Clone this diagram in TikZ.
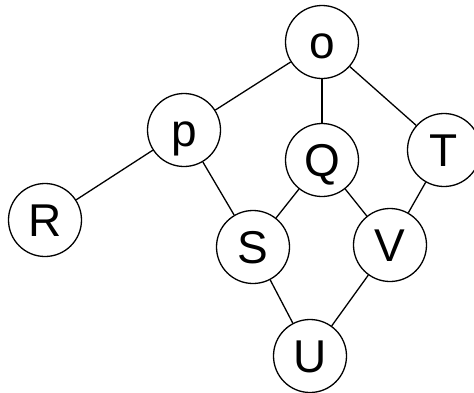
\documentclass[tikz,border=0pt]{standalone}
\usepackage{fontspec}
\setmainfont{Liberation Sans}

\begin{document}
\begin{tikzpicture}[
    x=1pt,
    y=-1pt,
    font=\fontsize{46}{46}\selectfont,
    vertex/.style={
        draw,
        circle,
        line width=1.3pt,
        minimum size=73pt,
        inner sep=0pt,
        text height=33pt,
        text depth=0pt
    },
    edge/.style={line width=1.3pt}
]

% Frame of the picture, T is cut by the right edge
\useasboundingbox (0,0) rectangle (474,392);
\clip (0,0) rectangle (474,392);

% Vertices
\node[vertex] (o) at (322,42)  {o};
\node[vertex] (p) at (184,130) {p};
\node[vertex] (q) at (322,160) {Q};
\node[vertex] (t) at (444,150) {T};
\node[vertex] (r) at (45,220)  {R};
\node[vertex] (s) at (253,247) {S};
\node[vertex] (v) at (390,245) {V};
\node[vertex] (u) at (310,356) {U};

% Edges
\foreach \a/\b in {o/p,o/q,o/t,p/r,p/s,q/s,q/v,t/v,s/u,v/u}
    \draw[edge] (\a) -- (\b);

\end{tikzpicture}
\end{document}
